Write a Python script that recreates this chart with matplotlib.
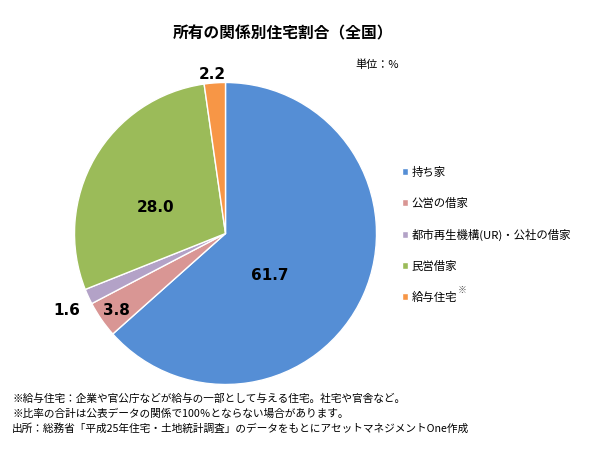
import matplotlib
matplotlib.use('Agg')
import matplotlib.pyplot as plt

plt.rcParams['font.family'] = ['Noto Sans CJK JP', 'DejaVu Sans']

# Data
categories = ['持ち家', '公営の借家', '都市再生機構(UR)・公社の借家', '民営借家', '給与住宅']
values = [61.7, 3.8, 1.6, 28.0, 2.2]
colors = ['#558ED5', '#D99694', '#B3A2C7', '#9BBB59', '#F79646']
label_pos = [(0.295, -0.275), (-0.719, -0.51), (-1.05, -0.51), (-0.46, 0.175), (-0.086, 1.05)]

title = '所有の関係別住宅割合（全国）'
unit = '単位：%'
notes = [
    '※給与住宅：企業や官公庁などが給与の一部として与える住宅。社宅や官舎など。',
    '※比率の合計は公表データの関係で100％とならない場合があります。',
    '出所：総務省「平成25年住宅・土地統計調査」のデータをもとにアセットマネジメントOne作成',
]

W, H = 590, 450
fig = plt.figure(figsize=(W / 100, H / 100), dpi=100)

cx, cy, r = 225.5, 233.5, 151
ax = fig.add_axes([(cx - r) / W, (H - cy - r) / H, 2 * r / W, 2 * r / H])
wedges, _ = ax.pie(values, colors=colors, startangle=90, counterclock=False,
                   radius=1.0, wedgeprops={'edgecolor': 'white', 'linewidth': 1.0})
ax.set_xlim(-1, 1)
ax.set_ylim(-1, 1)
ax.set_aspect('equal')
ax.axis('off')

for v, (x, y) in zip(values, label_pos):
    ax.text(x, y, f'{v:.1f}', ha='center', va='center', fontsize=11,
            fontweight='bold', family=['DejaVu Sans'], color='black')

fig.text(283 / W, 1 - 33 / H, title, ha='center', va='center', fontsize=11.3, fontweight='bold')
fig.text(355 / W, 1 - 65 / H, unit, ha='left', va='center', fontsize=8)

leg = fig.legend(wedges, categories, loc='upper left', bbox_to_anchor=(397 / W, 1 - 162 / H),
                 frameon=False, fontsize=8.2, handlelength=0.6, handleheight=0.6,
                 handletextpad=0.3, labelspacing=1.75, borderaxespad=0)

fig.canvas.draw()
renderer = fig.canvas.get_renderer()
bb = leg.get_texts()[-1].get_window_extent(renderer)
fig.text(bb.x1 / W, bb.y1 / H + 0.002, '※', fontsize=6.5, ha='left', va='center', color='#555555')

for i, line in enumerate(notes):
    fig.text(12 / W, 1 - (399 + 15 * i) / H, line, ha='left', va='center', fontsize=7.7)

fig.savefig('out.png', dpi=100)
